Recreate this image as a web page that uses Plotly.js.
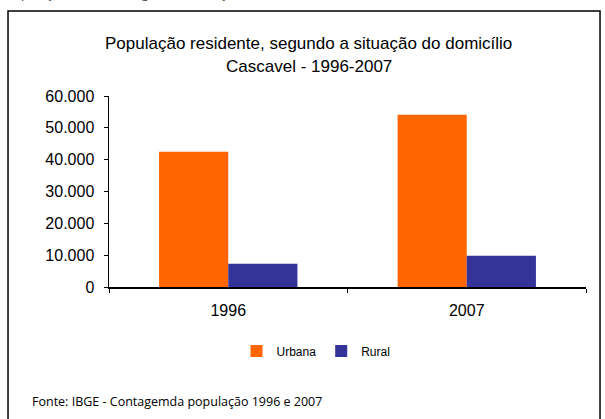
<!DOCTYPE html>
<html>
<head>
<meta charset="utf-8">
<script src="https://cdn.plot.ly/plotly-3.0.1.min.js"></script>
<style>
  html, body { margin: 0; padding: 0; background: #fff; }
  #chart { width: 605px; height: 419px; }
</style>
</head>
<body>
<div id="chart"></div>
<script>
    // População residente por situação do domicílio - Cascavel
    const anos = ['1996', '2007'];
    const urbana = [42500, 54100];
    const rural = [7300, 9800];

    const traceUrbana = {
        x: anos,
        y: urbana,
        type: 'bar',
        name: 'Urbana',
        marker: { color: '#ff6600' },
        hoverinfo: 'none'
    };

    const traceRural = {
        x: anos,
        y: rural,
        type: 'bar',
        name: 'Rural',
        marker: { color: '#333399' },
        hoverinfo: 'none'
    };

    const layout = {
        width: 605,
        height: 419,
        margin: { l: 109, r: 19, t: 96, b: 132 },
        paper_bgcolor: '#ffffff',
        plot_bgcolor: '#ffffff',
        font: { family: 'Liberation Sans, Arial, sans-serif', color: '#000000', size: 16 },
        separators: ',.',
        barmode: 'group',
        bargap: 0.42,
        bargroupgap: 0,
        showlegend: true,
        legend: {
            orientation: 'h',
            x: 0.434,
            xanchor: 'center',
            y: -0.335,
            yanchor: 'middle',
            font: { size: 12, family: 'Liberation Sans, Arial, sans-serif' },
            itemwidth: 30,
            tracegroupgap: 0
        },
        xaxis: {
            type: 'category',
            showline: true,
            linecolor: '#000000',
            linewidth: 1.5,
            ticks: 'outside',
            tickson: 'boundaries',
            ticklen: 4,
            tickcolor: '#000000',
            showgrid: false,
            zeroline: false,
            ticklabelstandoff: 8,
            fixedrange: true
        },
        yaxis: {
            range: [0, 60000],
            dtick: 10000,
            tickformat: ',.0f',
            showline: true,
            linecolor: '#000000',
            linewidth: 1.5,
            ticks: 'outside',
            ticklen: 4,
            tickcolor: '#000000',
            showgrid: false,
            zeroline: false,
            ticklabelstandoff: 6,
            fixedrange: true
        },
        shapes: [
            {
                type: 'rect', xref: 'paper', yref: 'paper',
                x0: -0.2117, x1: 1.0294, y0: -1.0, y1: 1.445,
                line: { color: '#000000', width: 1.5 },
                fillcolor: 'rgba(0,0,0,0)'
            }
        ],
        annotations: [
            {
                text: 'População residente, segundo a situação do domicílio',
                xref: 'paper', yref: 'paper',
                x: 0.419, y: 1.276, xanchor: 'center', yanchor: 'middle',
                showarrow: false,
                font: { size: 17 }
            },
            {
                text: 'Cascavel - 1996-2007',
                xref: 'paper', yref: 'paper',
                x: 0.419, y: 1.152, xanchor: 'center', yanchor: 'middle',
                showarrow: false,
                font: { size: 17 }
            },
            {
                text: 'Fonte: IBGE - Contagemda população 1996 e 2007',
                xref: 'paper', yref: 'paper',
                x: -0.166, y: -0.597, xanchor: 'left', yanchor: 'middle',
                showarrow: false,
                font: { size: 12.5, family: 'Open Sans, sans-serif' }
            },
            {
                text: 'População residente segundo a situação do domicílio',
                xref: 'paper', yref: 'paper',
                x: -0.22, y: 1.482, xanchor: 'left', yanchor: 'bottom',
                showarrow: false,
                font: { size: 12.5, family: 'Open Sans, sans-serif', color: '#444444' }
            }
        ]
    };

    const config = {
        responsive: false,
        displayModeBar: false,
        staticPlot: true
    };

    Plotly.newPlot('chart', [traceUrbana, traceRural], layout, config);
</script>
</body>
</html>
